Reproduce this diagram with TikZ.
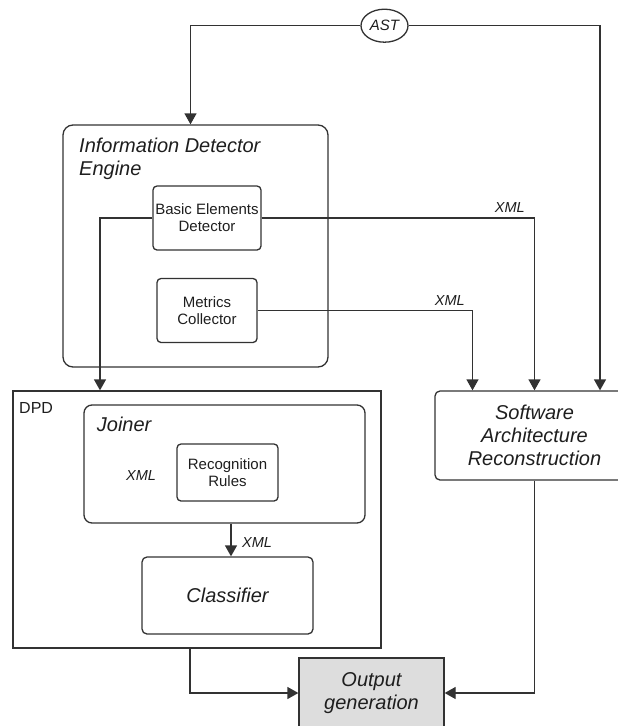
\documentclass[tikz,border=0pt]{standalone}
\usepackage{fontspec}
\setmainfont{Liberation Sans}
\usetikzlibrary{arrows.meta,shapes.geometric}
\definecolor{ln}{RGB}{50,50,50}
\definecolor{txt}{RGB}{30,30,30}
\definecolor{outfill}{RGB}{221,221,221}
\tikzset{
 box/.style={draw=ln, line width=1.3pt, inner sep=0pt, text=txt},
 rbox/.style={box, rounded corners=#1},
 arr/.style={draw=ln, line width=1.3pt, -{Triangle[width=12pt,length=11pt]}},
 big/.style={font=\fontsize{20}{23}\selectfont\itshape},
 small/.style={font=\fontsize{15}{17}\selectfont},
 xmllab/.style={font=\fontsize{14.5}{17}\selectfont\itshape, text=txt, inner sep=0pt},
 title/.style={inner sep=0pt, text=txt},
}
\begin{document}
\begin{tikzpicture}[x=1pt,y=-1pt]
\useasboundingbox (0,0) rectangle (618,726);
\clip (0,0) rectangle (618,726);

% Information Detector Engine
\node[rbox=10pt, minimum width=265pt, minimum height=242pt] (ide) at (195.5,246) {};
\node[title, big, anchor=north west, align=left] (idetitle) at (79,137.7) {Information Detector\\Engine};
\node[rbox=4pt, small, align=center, minimum width=108pt, minimum height=64pt] (bed) at (207,218) {Basic Elements\\Detector};
\node[rbox=4pt, small, align=center, minimum width=100pt, minimum height=64pt] (mc) at (207,310.5) {Metrics\\Collector};

% DPD
\node[box, minimum width=368pt, minimum height=257pt] (dpd) at (197,519.5) {};
\node[title, font=\fontsize{16}{19}\selectfont, anchor=base west] (dpdtitle) at (19,413.3) {DPD};
\node[rbox=8pt, minimum width=281pt, minimum height=118pt] (joiner) at (224.5,464) {};
\node[title, big, anchor=base west] (joinertitle) at (96.7,431.7) {Joiner};
\node[rbox=4pt, small, align=center, minimum width=101pt, minimum height=57pt] (rr) at (227.5,472.5) {Recognition\\Rules};
\node[xmllab, anchor=base] (x3) at (141,480) {XML};
\node[rbox=5pt, big, minimum width=171pt, minimum height=77pt] (cls) at (227.5,595.5) {Classifier};

% Software Architecture Reconstruction
\node[rbox=5pt, big, align=center, minimum width=199pt, minimum height=89pt] (sar) at (534.5,435.5) {Software\\Architecture\\Reconstruction};

% Output generation
\node[box, fill=outfill, big, align=center, minimum width=145pt, minimum height=70pt] (out) at (371.5,693) {Output\\generation};

% AST
\node[box, ellipse, minimum width=47pt, minimum height=33pt, font=\fontsize{15}{17}\selectfont\itshape] (ast) at (384.5,25.7) {AST};

% XML labels
\node[xmllab, anchor=base east] (x1) at (525,212.3) {XML};
\node[xmllab, anchor=base east] (x2) at (465,305) {XML};
\node[xmllab, anchor=base west] (x4) at (242,547) {XML};

% connectors
\draw[arr] (ast.west) -| ([xshift=-5pt]ide.north);
\draw[arr] (ast.east) -| ([xshift=65.5pt]sar.north);
\draw[arr] (bed.east) -| (sar.north);
\draw[arr] (mc.east) -| ([xshift=-62pt]sar.north);
\draw[arr] (bed.west) -| ([xshift=-97pt]dpd.north);
\coordinate (jx) at ([xshift=6.5pt]joiner.south);
\draw[arr] (jx) -- (jx |- cls.north);
\draw[arr] ([xshift=-7pt]dpd.south) |- (out.west);
\draw[arr] (sar.south) |- (out.east);
\end{tikzpicture}
\end{document}
